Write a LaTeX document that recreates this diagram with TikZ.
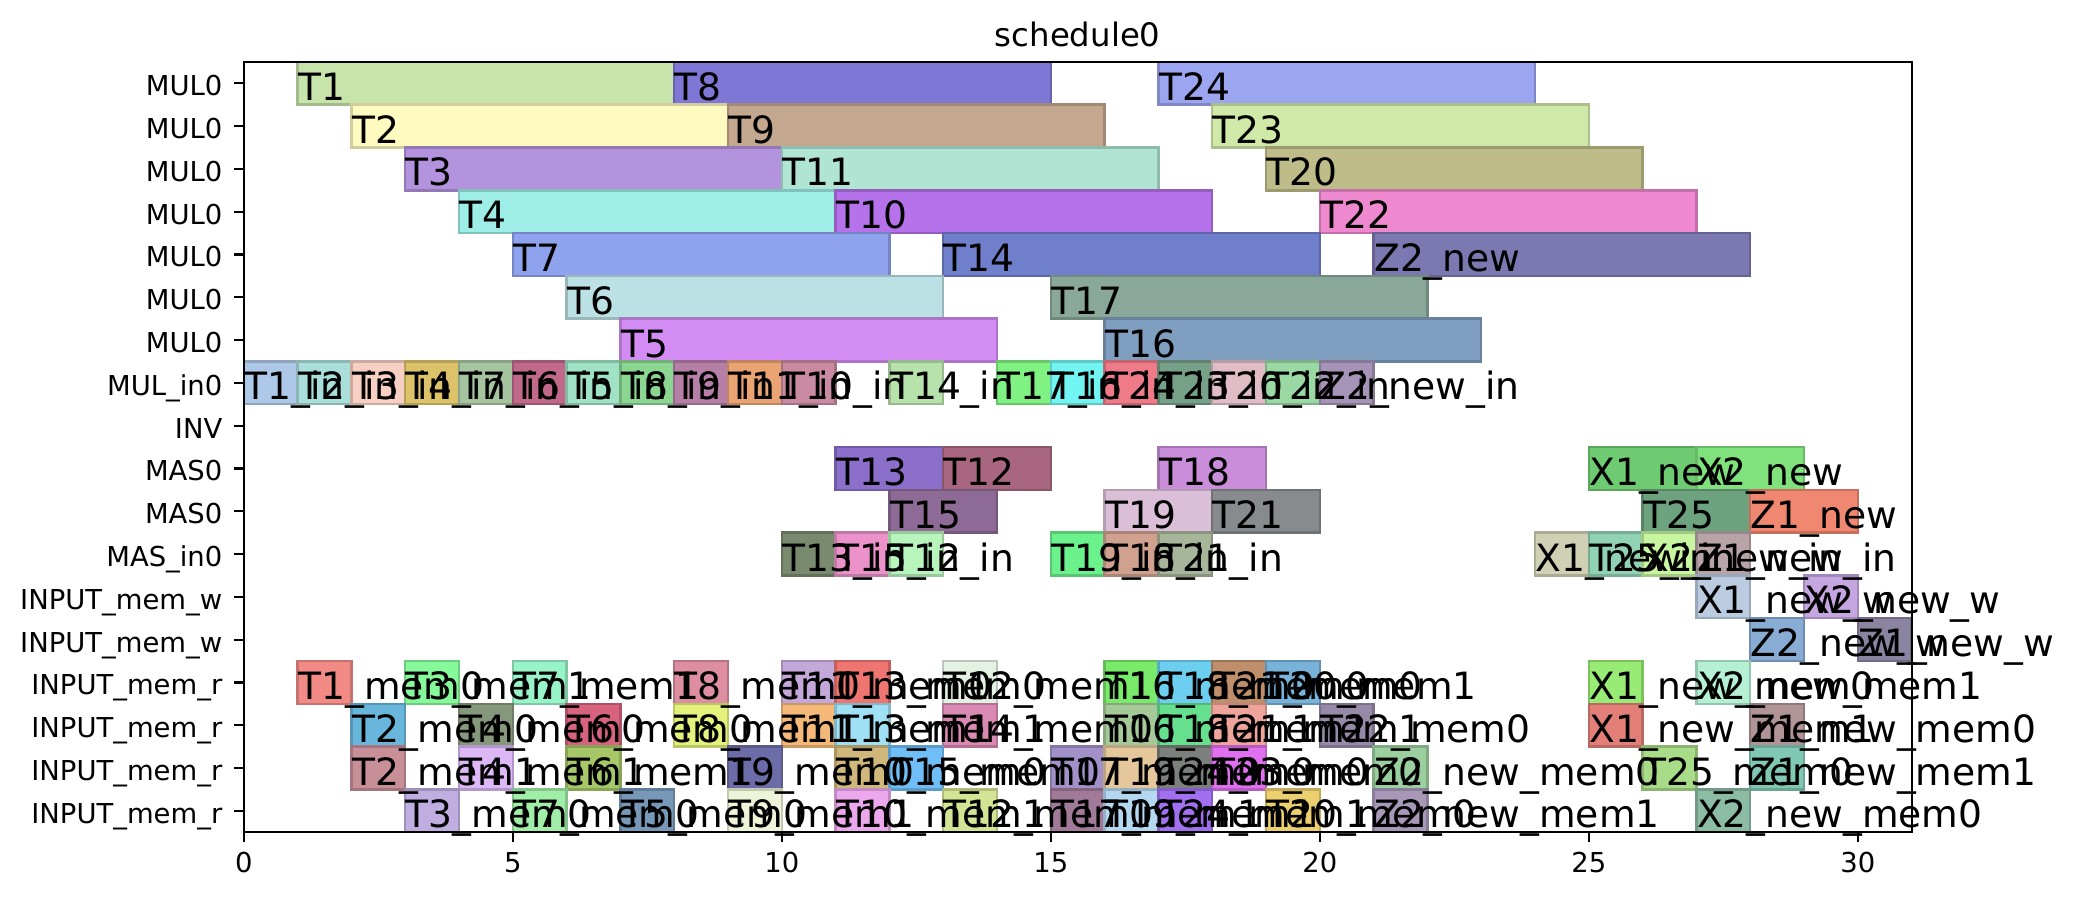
\documentclass[tikz,border=0pt]{standalone}
\usepackage{fontspec}
\setmainfont{DejaVu Sans}
\usepackage{xcolor}
\usepackage{tikz}

\tikzset{
  taskbar/.style={line width=0.7pt},
  tasklabel/.style={anchor=base west, inner sep=0pt, font=\fontsize{10.7}{12}\selectfont},
  ticklabel/.style={inner sep=0pt, font=\fontsize{7.8}{9}\selectfont},
  spine/.style={line width=0.6pt}
}

% row/start/end/colour/label
\newcommand{\schedulelist}{%
  0/1/8/C7E4AB/T1, 0/8/15/7F77D6/T8, 0/17/24/9CA5EF/T24,
  1/2/9/FFFAC0/T2, 1/9/16/C4A78F/T9, 1/18/25/CFE9A8/T23,
  2/3/10/B392DE/T3, 2/10/17/B0E5D4/T11, 2/19/26/BEBD89/T20,
  3/4/11/9EEDE6/T4, 3/11/18/B672EA/T10, 3/20/27/EE89CF/T22,
  4/5/12/8FA2EE/T7, 4/13/20/707FCB/T14, 4/21/28/7C78B1/Z2\_new,
  5/6/13/BBE1E5/T6, 5/15/22/8AA89A/T17,
  6/7/14/D38CF4/T5, 6/16/23/7F9EC0/T16,
  7/0/1/AEC9E8/T1\_in, 7/1/2/A9DEDB/T2\_in, 7/2/3/F7D0C3/T3\_in, 7/3/4/DCC36A/T4\_in,
  7/4/5/A7C4A1/T7\_in, 7/5/6/C0698A/T6\_in, 7/6/7/9FE2C5/T5\_in, 7/7/8/8BD690/T8\_in,
  7/8/9/B67FA8/T9\_in, 7/9/10/EAA474/T11\_in, 7/10/11/C98AA2/T10\_in, 7/12/13/B8E2AB/T14\_in,
  7/14/15/80F283/T17\_in, 7/15/16/72F5F2/T16\_in, 7/16/17/EF7A88/T24\_in, 7/17/18/76A087/T23\_in,
  7/18/19/E0BCC7/T20\_in, 7/19/20/9AD8A4/T22\_in, 7/20/21/A594B7/Z2\_new\_in,
  9/11/13/8B6FCA/T13, 9/13/15/A86680/T12, 9/17/19/C98DD9/T18, 9/25/27/6ECB71/X1\_new, 9/27/29/80E27C/X2\_new,
  10/12/14/8D6B96/T15, 10/16/18/DBBFD8/T19, 10/18/20/878B8E/T21, 10/26/28/6CA27D/T25, 10/28/30/F08770/Z1\_new,
  11/10/11/7A8A6E/T13\_in, 11/11/12/EA92C9/T15\_in, 11/12/13/B8F5BD/T12\_in, 11/15/16/6CF28D/T19\_in,
  11/16/17/CFA18E/T18\_in, 11/17/18/A7B59B/T21\_in, 11/24/25/D0D0B4/X1\_new\_in, 11/25/26/92D2B4/T25\_in,
  11/26/27/C8F5A0/X2\_new\_in, 11/27/28/B8A4A8/Z1\_new\_in,
  12/27/28/BCCCE0/X1\_new\_w, 12/29/30/C6A6E0/X2\_new\_w,
  13/28/29/89ACD4/Z2\_new\_w, 13/30/31/8A84A0/Z1\_new\_w,
  14/1/2/F28B86/T1\_mem0, 14/3/4/86F99A/T3\_mem1, 14/5/6/99F3C9/T7\_mem1, 14/8/9/DD8EA0/T8\_mem0,
  14/10/11/C5A8DA/T11\_mem0, 14/11/12/EF7570/T13\_mem0, 14/13/14/E4F2E4/T12\_mem1, 14/16/17/79EA6A/T16\_mem0,
  14/17/18/6CCFEF/T18\_mem0, 14/18/19/BE8F6A/T21\_mem0, 14/19/20/78B2D9/T20\_mem1, 14/25/26/98EB74/X1\_new\_mem0,
  14/27/28/B5F0D4/X2\_new\_mem1,
  15/2/3/69B6DC/T2\_mem0, 15/4/5/86987B/T4\_mem0, 15/6/7/D8637F/T6\_mem0, 15/8/9/E4F17C/T8\_mem1,
  15/10/11/F4B978/T11\_mem1, 15/11/12/A0E0F4/T13\_mem1, 15/13/14/D98AB3/T14\_mem0, 15/16/17/A6C99A/T16\_mem1,
  15/17/18/66E08E/T18\_mem1, 15/18/19/EEA49A/T21\_mem1, 15/20/21/968AA8/T22\_mem0, 15/25/26/E27F78/X1\_new\_mem1,
  15/28/29/B09496/Z1\_new\_mem0,
  16/2/3/C88F98/T2\_mem1, 16/4/5/DCB8F6/T4\_mem1, 16/6/7/A6C868/T6\_mem1, 16/9/10/6C6CA8/T9\_mem0,
  16/11/12/D0B87C/T10\_mem0, 16/12/13/70BEF8/T15\_mem0, 16/15/16/A290C8/T17\_mem0, 16/16/17/E4C89C/T19\_mem0,
  16/17/18/7B807D/T24\_mem0, 16/18/19/E070F0/T23\_mem0, 16/21/22/9CCF9F/Z2\_new\_mem0, 16/26/27/A8DC88/T25\_mem0,
  16/28/29/80C8B4/Z1\_new\_mem1,
  17/3/4/C0AEE0/T3\_mem0, 17/5/6/A0EEA8/T7\_mem0, 17/7/8/7898B8/T5\_mem0, 17/9/10/EEF4D8/T9\_mem1,
  17/11/12/ECA8EC/T10\_mem1, 17/13/14/D4E494/T12\_mem0, 17/15/16/A07A98/T17\_mem1, 17/16/17/B4D8F0/T19\_mem1,
  17/17/18/A070F0/T24\_mem1, 17/19/20/ECD070/T20\_mem0, 17/21/22/A898B8/Z2\_new\_mem1, 17/27/28/8CBCA4/X2\_new\_mem0%
}

\begin{document}
\begin{tikzpicture}[x=0.538cm, y=-0.428cm]
    \useasboundingbox (-4.532,-1.946) rectangle (34.112,19.082);

    % task bars
    \foreach \r/\s/\e/\c/\l in \schedulelist {
        \definecolor{barfill}{HTML}{\c}
        \draw[taskbar, fill=barfill, draw=barfill!82!black] (\s,\r-0.5) rectangle (\e,\r+0.5);
    }

    % axes frame
    \draw[spine] (0,-0.5) rectangle (31,17.5);

    % resources
    \foreach \r/\name in {0/MUL0, 1/MUL0, 2/MUL0, 3/MUL0, 4/MUL0, 5/MUL0, 6/MUL0, 7/MUL\_in0, 8/INV,
        9/MAS0, 10/MAS0, 11/MAS\_in0, 12/INPUT\_mem\_w, 13/INPUT\_mem\_w,
        14/INPUT\_mem\_r, 15/INPUT\_mem\_r, 16/INPUT\_mem\_r, 17/INPUT\_mem\_r} {
        \draw[spine] (0,\r) -- (-0.18,\r);
        \node[ticklabel, anchor=base east] (res-\r) at (-0.387,\r+0.29) {\name};
    }

    % time axis
    \foreach \t in {0,5,...,30} {
        \draw[spine] (\t,17.5) -- (\t,17.727);
        \node[ticklabel, anchor=north] (time-\t) at (\t,17.953) {\t};
    }

    \node[anchor=base, inner sep=0pt, font=\fontsize{9.2}{11}\selectfont] (title) at (15.5,-0.848) {schedule0};

    % task names, on top of every bar
    \foreach \r/\s/\e/\c/\l in \schedulelist
        \node[tasklabel] (task-\r-\s) at (\s,\r+0.4) {\l};
\end{tikzpicture}
\end{document}
